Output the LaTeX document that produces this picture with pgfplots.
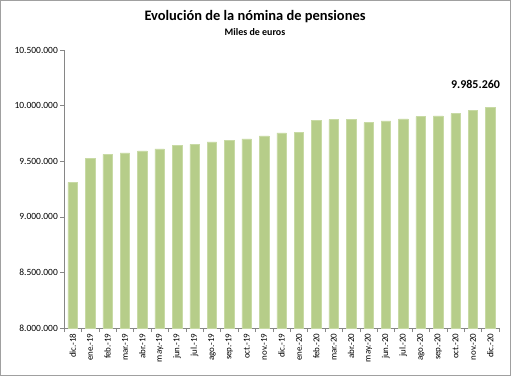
\documentclass[border=0pt]{standalone}
\usepackage{pgfplots}
\pgfplotsset{compat=1.18}
\usepackage{fontspec}
\setmainfont{Carlito}
\definecolor{barfill}{RGB}{182,205,137}
\definecolor{baredge}{RGB}{200,218,165}
\definecolor{axgray}{RGB}{134,134,134}
\definecolor{framegray}{RGB}{160,160,160}
\begin{document}
\begin{tikzpicture}[x=1bp,y=1bp]
\useasboundingbox (0,0) rectangle (512,378);
\draw[framegray, line width=1bp] (0.5,3) rectangle (510,377.5);
\node[font=\bfseries\fontsize{14.5}{16}\selectfont] at (255,361) {Evolución de la nómina de pensiones};
\node[font=\bfseries\fontsize{10}{12}\selectfont] at (255,346) {Miles de euros};
\begin{axis}[
  at={(64bp,50bp)}, anchor=south west,
  scale only axis, width=435bp, height=278bp,
  xmin=-0.5, xmax=24.5,
  ymin=8000000, ymax=10500000,
  ytick={8000000,8500000,9000000,9500000,10000000,10500000},
  scaled y ticks=false,
  /pgf/number format/.cd, fixed, 1000 sep={.}, assume math mode=true,
  /pgfplots/.cd,
  axis x line*=bottom, axis y line*=left,
  axis line style={axgray, line width=0.8bp},
  y axis line style={-}, x axis line style={-},
  xtick=data,
  xticklabels={dic.-18,ene.-19,feb.-19,mar.-19,abr.-19,may.-19,jun.-19,jul.-19,ago.-19,sep.-19,oct.-19,nov.-19,dic.-19,ene.-20,feb.-20,mar.-20,abr.-20,may.-20,jun.-20,jul.-20,ago.-20,sep.-20,oct.-20,nov.-20,dic.-20},
  xticklabel style={rotate=90, anchor=east, font=\fontsize{9}{10}\selectfont, inner sep=1.5bp},
  yticklabel style={font=\fontsize{9.5}{11}\selectfont, inner sep=2bp},
  major x tick style={draw=none},
  minor xtick={-0.5,0.5,...,24.5},
  minor x tick style={axgray, line width=0.6bp},
  minor tick length=4bp,
  major tick length=4bp,
  ytick style={axgray, line width=0.6bp},
  tick align=outside,
  ybar, bar width=9.5bp,
  clip=false,
]
\addplot[fill=barfill, draw=baredge, line width=0.5bp] coordinates {
(0,9310000) (1,9527000) (2,9562000) (3,9575000) (4,9593000) (5,9611000)
(6,9640000) (7,9652000) (8,9674000) (9,9689000) (10,9701000) (11,9728000)
(12,9754000) (13,9760000) (14,9868000) (15,9874000) (16,9874000) (17,9847000)
(18,9862000) (19,9880000) (20,9901000) (21,9907000) (22,9928000) (23,9955000)
(24,9985260)};
\node[font=\bfseries\fontsize{12}{14}\selectfont] at (axis cs:23.15,10189000) {9.985.260};
\end{axis}
\end{tikzpicture}
\end{document}
